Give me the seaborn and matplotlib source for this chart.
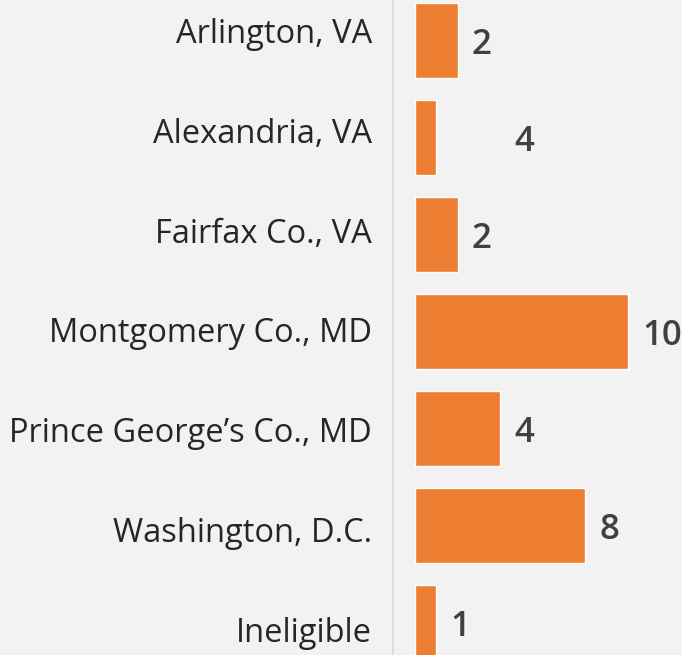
import matplotlib
matplotlib.use('Agg')
import matplotlib.pyplot as plt
import seaborn as sns

# Chart data
places = ['Arlington, VA', 'Alexandria, VA', 'Fairfax Co., VA', 'Montgomery Co., MD',
          'Prince George\u2019s Co., MD', 'Washington, D.C.', 'Ineligible']
bar_values = [2, 1, 2, 10, 4, 8, 1]
# the printed labels (Alexandria's label reads 4 while its bar is 1)
label_values = [2, 4, 2, 10, 4, 8, 1]

sns.set_theme(style='white')
plt.rcParams['font.family'] = ['Open Sans', 'DejaVu Sans']

bg = '#f2f2f2'
fig = plt.figure(figsize=(6.82, 6.55), dpi=100, facecolor=bg)
ax = fig.add_axes([393 / 682, 0, 1 - 393 / 682, 1], facecolor=bg)

sns.barplot(x=bar_values, y=places, orient='h', color='#ed7d31', saturation=1,
            width=0.773, ax=ax)

# value labels
for i, v in enumerate(label_values):
    ax.annotate(str(v), xy=(v, i), xytext=(10, -3), textcoords='offset points',
                ha='left', va='center', fontsize=25, fontweight='semibold',
                color='#404040', annotation_clip=False)

ax.set_xlim(-1.03, 12.53)
ax.set_ylim(6.335, -0.418)
ax.set_xticks([])
# category labels are spaced a little wider than the bars
ax.set_yticks([-0.10 + 1.028 * i for i in range(len(places))], places)
ax.set_xlabel('')
ax.set_ylabel('')
ax.tick_params(axis='y', length=0, pad=15, labelsize=23.5, labelcolor='#262626')
for side in ['top', 'right', 'bottom']:
    ax.spines[side].set_visible(False)
ax.spines['left'].set_color('#d9d9d9')
ax.spines['left'].set_linewidth(1.2)

fig.savefig('out.png', dpi=100, facecolor=bg)
